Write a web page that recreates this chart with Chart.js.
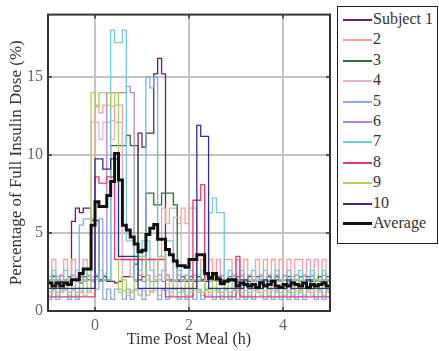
<!DOCTYPE html>
<html>
<head>
<meta charset="utf-8">
<script src="https://cdn.jsdelivr.net/npm/chart.js@4.4.0/dist/chart.umd.min.js"></script>
<style>
  body { margin: 0; background: #fff; }
  #wrap { position: relative; width: 439px; height: 351px; }
  #legend {
    position: absolute; left: 337px; top: 6px; width: 101px; height: 238px;
    border: 1.5px solid #222; box-sizing: border-box; background: #fff;
    font-family: 'Liberation Serif', serif; font-size: 16px; color: #333;
  }
  .row { position: absolute; left: 0; height: 20px; line-height: 20px; white-space: nowrap; }
  .swatch { position: absolute; left: 5px; top: 10px; width: 29px; height: 2px; }
  .lbl { position: absolute; left: 35px; top: 0; }
</style>
</head>
<body>
<div id="wrap">
  <canvas id="insulinChart" width="439" height="351"></canvas>
  <div id="legend"></div>
</div>
<script>
// time grid: 5 minute samples from -1 h, values held until the next sample
const startHour = -1;
const stepHour = 1 / 12;
const xTicks = [0, 2, 4];
const yTicks = [0, 5, 10, 15];

const seriesNames = ['Subject 1', '2', '3', '4', '5', '6', '7', '8', '9', '10', 'Average'];
const seriesColors = ['#6b2063', '#f7a1a1', '#2f6f3a', '#e9b3d6', '#86aee0', '#b385cc',
                      '#74cbdc', '#e8377c', '#a9d25e', '#2e2f8e', '#111111'];

// one row per hour: -1..0, 0..1, 1..2, 2..3, 3..4, 4..5
const subject1 = [
  1.9, 2.0, 1.9, 1.9, 2.0, 1.9, 5.75, 6.6, 6.3, 6.6, 6.6, 5.8,
  5.8, 2.0, 2.0, 1.9, 1.9, 1.8, 1.9, 2.2, 2.2, 2.2, 3.0, 11.4,
  10.5, 11.4, 11.4, 15.2, 16.2, 15.2, 2.0, 2.0, 1.9, 1.9, 2.0, 1.9,
  2.0, 1.9, 1.9, 2.0, 1.9, 1.9, 2.0, 1.9, 1.9, 2.0, 1.9, 1.9,
  1.9, 2.0, 1.9, 1.9, 2.0, 1.9, 1.9, 2.0, 1.9, 1.9, 2.0, 1.9,
  2.0, 1.9, 1.9, 2.0, 1.9, 2.0, 1.9, 1.9, 2.0, 1.9, 1.9, 2.0
];
const subject2 = [
  2.2, 3.3, 2.2, 2.2, 3.3, 2.2, 3.3, 2.2, 2.2, 3.3, 2.2, 2.2,
  13.2, 12.7, 13.2, 13.2, 12.2, 13.2, 13.2, 3.3, 3.3, 2.2, 3.3, 3.3,
  2.2, 3.3, 3.3, 2.2, 3.3, 6.6, 5.6, 6.6, 6.6, 5.6, 6.6, 5.6,
  6.6, 6.6, 2.2, 3.3, 2.2, 3.3, 2.2, 3.3, 2.2, 3.3, 3.3, 2.2,
  3.3, 2.2, 3.3, 2.2, 2.2, 3.3, 2.2, 3.3, 2.2, 3.3, 2.2, 3.3,
  2.2, 3.3, 2.2, 3.3, 3.3, 2.2, 3.3, 2.2, 3.3, 2.2, 3.3, 2.2
];
const subject3 = [
  2.0, 2.2, 2.0, 1.8, 2.0, 2.2, 2.0, 2.0, 1.8, 2.2, 2.0, 2.0,
  2.2, 2.0, 2.2, 2.0, 10.6, 10.6, 10.6, 10.6, 11.25, 10.6, 10.6, 2.0,
  2.2, 7.55, 7.55, 6.8, 6.8, 7.55, 7.55, 7.55, 6.8, 2.0, 2.2, 2.0,
  2.2, 2.0, 2.2, 2.0, 2.0, 2.2, 2.0, 2.2, 2.0, 2.0, 2.2, 2.0,
  2.2, 2.0, 2.0, 2.2, 2.0, 2.2, 2.0, 2.0, 2.2, 2.0, 2.2, 2.0,
  2.0, 2.2, 2.0, 2.0, 2.2, 2.0, 2.2, 2.0, 2.0, 2.2, 2.0, 2.2
];
const subject4 = [
  1.0, 1.3, 1.0, 1.3, 1.3, 1.0, 1.3, 1.0, 1.3, 1.0, 1.3, 12.1,
  12.1, 11.0, 12.1, 12.1, 11.0, 12.1, 12.1, 1.3, 1.0, 1.3, 1.3, 1.0,
  1.3, 1.0, 1.3, 1.3, 1.0, 1.3, 1.3, 1.0, 6.0, 6.0, 1.3, 1.0,
  1.0, 1.3, 1.3, 1.0, 1.3, 1.0, 1.3, 1.3, 1.0, 1.3, 1.0, 1.3,
  1.3, 1.0, 1.3, 1.0, 1.3, 1.3, 1.0, 1.3, 1.0, 1.3, 1.3, 1.0,
  1.0, 1.3, 1.0, 1.3, 1.3, 1.0, 1.3, 1.0, 1.3, 1.3, 1.0, 1.3
];
const subject5 = [
  0.75, 1.4, 0.75, 1.4, 1.4, 0.75, 1.4, 0.75, 5.5, 5.9, 5.9, 5.9,
  1.4, 5.9, 0.75, 1.4, 0.75, 1.4, 1.4, 0.75, 1.4, 0.75, 1.4, 1.4,
  0.75, 15.0, 14.3, 15.0, 0.75, 1.4, 0.75, 1.4, 1.4, 0.75, 1.4, 0.75,
  1.4, 0.75, 1.4, 0.75, 1.4, 1.4, 0.75, 1.4, 0.75, 1.4, 0.75, 1.4,
  0.75, 1.4, 0.75, 1.4, 0.75, 1.4, 1.4, 0.75, 1.4, 0.75, 1.4, 0.75,
  1.4, 0.75, 1.4, 0.75, 1.4, 0.75, 1.4, 1.4, 0.75, 1.4, 0.75, 1.4
];
const subject6 = [
  1.9, 2.3, 1.9, 2.3, 1.9, 1.9, 2.3, 1.9, 2.3, 1.9, 2.3, 1.9,
  2.3, 1.9, 2.3, 14.0, 14.0, 14.0, 14.0, 14.0, 14.4, 14.0, 1.9, 2.3,
  1.9, 2.3, 1.9, 1.9, 2.3, 1.9, 2.3, 1.9, 1.9, 2.3, 1.9, 2.3,
  1.9, 2.3, 1.9, 1.9, 2.3, 1.9, 2.3, 1.9, 2.3, 1.9, 1.9, 2.3,
  1.9, 2.3, 1.9, 2.3, 1.9, 1.9, 2.3, 1.9, 2.3, 1.9, 2.3, 1.9,
  2.3, 1.9, 1.9, 2.3, 1.9, 2.3, 1.9, 2.3, 1.9, 1.9, 2.3, 1.9
];
const subject7 = [
  2.0, 2.6, 2.0, 2.0, 2.6, 2.0, 2.0, 2.6, 2.0, 2.0, 2.6, 2.0,
  2.0, 2.6, 2.0, 2.0, 18.0, 17.2, 17.2, 18.0, 4.5, 4.5, 2.0, 2.6,
  4.5, 4.5, 2.6, 2.0, 2.0, 2.6, 4.5, 4.5, 2.0, 2.6, 2.0, 2.0,
  2.6, 2.0, 2.0, 2.6, 2.0, 6.3, 7.25, 6.3, 6.3, 2.0, 2.6, 2.0,
  2.0, 2.6, 2.0, 2.0, 2.6, 2.0, 2.0, 2.6, 2.0, 2.0, 2.6, 2.0,
  2.0, 2.6, 2.0, 2.0, 2.6, 2.0, 2.0, 2.6, 2.0, 2.0, 2.6, 2.0
];
const subject8 = [
  0.9, 0.9, 0.9, 0.9, 0.9, 0.9, 0.9, 0.9, 0.9, 0.9, 0.9, 0.9,
  8.6, 8.2, 8.2, 8.6, 8.6, 3.3, 3.3, 3.3, 3.3, 3.3, 3.3, 3.3,
  3.3, 3.3, 3.3, 3.3, 3.3, 3.3, 0.9, 0.9, 0.9, 0.9, 0.9, 0.9,
  0.9, 7.1, 7.1, 8.1, 0.9, 0.9, 0.9, 0.9, 0.9, 0.9, 0.9, 0.9,
  3.5, 0.9, 0.9, 0.9, 0.9, 0.9, 0.9, 0.9, 0.9, 0.9, 0.9, 0.9,
  0.9, 0.9, 0.9, 0.9, 0.9, 0.9, 0.9, 0.9, 0.9, 0.9, 0.9, 0.9
];
const subject9 = [
  1.2, 2.0, 1.2, 1.2, 2.0, 1.2, 2.0, 1.2, 1.2, 2.0, 1.2, 14.0,
  13.1, 14.0, 14.0, 14.0, 13.1, 14.0, 1.2, 2.0, 1.2, 1.2, 2.0, 3.5,
  3.5, 2.0, 1.2, 2.0, 3.5, 3.5, 2.0, 1.2, 2.0, 1.2, 1.2, 2.0,
  1.2, 2.0, 1.2, 1.2, 2.0, 1.2, 2.0, 1.2, 1.2, 2.0, 1.2, 2.0,
  1.2, 1.2, 2.0, 1.2, 2.0, 1.2, 1.2, 2.0, 1.2, 2.0, 1.2, 1.2,
  2.0, 1.2, 1.2, 2.0, 1.2, 2.0, 1.2, 1.2, 2.0, 1.2, 2.0, 1.2
];
const subject10 = [
  1.45, 1.45, 1.45, 1.45, 1.45, 1.45, 1.45, 1.45, 1.45, 1.45, 1.45, 1.45,
  9.75, 9.75, 9.1, 9.1, 9.75, 9.75, 3.5, 3.5, 3.5, 3.5, 3.5, 1.45,
  1.45, 1.45, 1.45, 1.45, 1.45, 1.45, 1.45, 1.45, 1.45, 1.45, 1.45, 1.45,
  1.45, 1.45, 11.9, 11.2, 11.2, 1.45, 1.45, 1.45, 1.45, 1.45, 1.45, 1.45,
  1.45, 1.45, 2.0, 1.45, 1.45, 1.45, 1.45, 2.0, 1.45, 1.45, 1.45, 1.45,
  1.45, 2.0, 1.45, 1.45, 1.45, 1.45, 2.0, 1.45, 1.45, 1.45, 1.45, 1.45
];
const average = [
  1.8, 1.6, 1.8, 1.6, 1.8, 1.7, 2.0, 2.0, 2.4, 2.7, 2.7, 5.5,
  7.0, 6.7, 6.7, 7.4, 8.3, 10.1, 8.4, 5.5, 5.2, 4.75, 4.3, 3.8,
  3.9, 4.9, 5.3, 5.55, 4.6, 4.6, 3.95, 3.6, 3.2, 2.9, 2.9, 2.8,
  3.3, 3.3, 3.6, 3.6, 2.4, 2.1, 2.4, 2.05, 1.75, 1.9, 2.0, 2.0,
  1.6, 1.8, 1.7, 1.6, 1.7, 1.5, 1.8, 1.6, 1.7, 1.9, 1.6, 1.5,
  1.7, 1.6, 1.8, 1.7, 1.6, 1.8, 1.5, 1.7, 1.6, 1.7, 1.8, 1.6
];

const allSeries = [subject1, subject2, subject3, subject4, subject5, subject6,
                   subject7, subject8, subject9, subject10, average];

// each sample holds until the next one, last one until the end of the axis
const toPoints = (vals) => {
  const pts = vals.map((v, i) => ({ x: startHour + i * stepHour, y: v }));
  pts.push({ x: startHour + vals.length * stepHour, y: vals[vals.length - 1] });
  return pts;
};

const datasets = allSeries.map((vals, i) => {
  const isAvg = i === allSeries.length - 1;
  return {
    label: seriesNames[i],
    data: toPoints(vals),
    borderColor: seriesColors[i],
    borderWidth: isAvg ? 3 : 1.3,
    stepped: true,
    pointRadius: 0,
    fill: false,
    // later subjects on top, average above everything
    order: isAvg ? 0 : allSeries.length - 1 - i,
  };
});

const serif = 'Liberation Serif';

const framePlugin = {
  id: 'frame',
  afterDatasetsDraw(chart) {
    const { ctx, chartArea: a, scales } = chart;
    ctx.save();
    ctx.strokeStyle = '#333';
    ctx.lineWidth = 1.5;
    ctx.beginPath();
    xTicks.forEach(v => {
      const px = scales.x.getPixelForValue(v);
      ctx.moveTo(px, a.top); ctx.lineTo(px, a.top + 4);
      ctx.moveTo(px, a.bottom); ctx.lineTo(px, a.bottom - 4);
    });
    yTicks.forEach(v => {
      const py = scales.y.getPixelForValue(v);
      ctx.moveTo(a.left, py); ctx.lineTo(a.left + 4, py);
      ctx.moveTo(a.right, py); ctx.lineTo(a.right - 4, py);
    });
    ctx.stroke();
    ctx.lineWidth = 2;
    ctx.strokeRect(a.left, a.top, a.right - a.left, a.bottom - a.top);
    ctx.restore();
  }
};

new Chart(document.getElementById('insulinChart'), {
  type: 'line',
  data: { datasets },
  options: {
    responsive: false,
    animation: false,
    layout: { padding: { top: 7, right: 109, left: 0, bottom: 0 } },
    plugins: { legend: { display: false }, tooltip: { enabled: false } },
    scales: {
      x: {
        type: 'linear',
        min: -1,
        max: 5,
        afterBuildTicks: s => { s.ticks = xTicks.map(v => ({ value: v })); },
        afterFit: s => { s.height = 40; },
        grid: { color: '#c4c4c4', lineWidth: 2, drawTicks: false },
        border: { display: false },
        ticks: { padding: 5, color: '#666', font: { family: serif, size: 16 } },
        title: {
          display: true, text: 'Time Post Meal (h)', color: '#333',
          font: { family: serif, size: 16 }, padding: { top: 0, bottom: 2 }
        }
      },
      y: {
        min: 0,
        max: 19,
        afterBuildTicks: s => { s.ticks = yTicks.map(v => ({ value: v })); },
        afterFit: s => { s.width = 48; },
        grid: { color: '#c4c4c4', lineWidth: 2, drawTicks: false },
        border: { display: false },
        ticks: { padding: 5, color: '#666', font: { family: serif, size: 16 } },
        title: {
          display: true, text: 'Percentage of Full Insulin Dose (%)', color: '#333',
          font: { family: serif, size: 17 }, padding: { top: 6, bottom: 0 }
        }
      }
    }
  },
  plugins: [framePlugin]
});

// legend box on the right
const legend = document.getElementById('legend');
seriesNames.forEach((name, i) => {
  const isAvg = i === seriesNames.length - 1;
  const row = document.createElement('div');
  row.className = 'row';
  row.style.top = Math.round(2 + i * 20.4) + 'px';
  const sw = document.createElement('div');
  sw.className = 'swatch';
  sw.style.backgroundColor = seriesColors[i];
  if (isAvg) { sw.style.height = '3px'; sw.style.top = '9px'; }
  const lbl = document.createElement('span');
  lbl.className = 'lbl';
  lbl.textContent = name;
  row.appendChild(sw);
  row.appendChild(lbl);
  legend.appendChild(row);
});
</script>
</body>
</html>
